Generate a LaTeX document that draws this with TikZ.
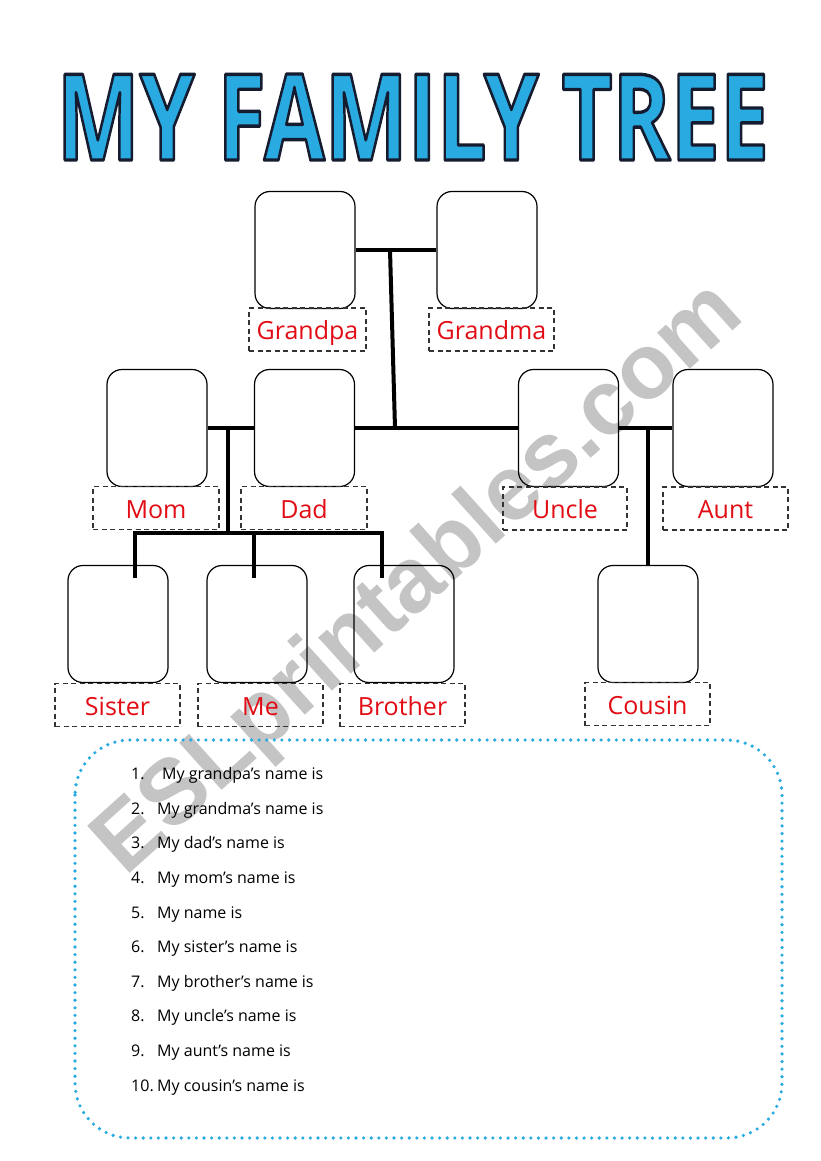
\documentclass[tikz,border=0pt]{standalone}
\usepackage{fontspec}
\setmainfont{Open Sans}
\newfontfamily\markfont{Liberation Sans}
\definecolor{skyblue}{RGB}{41,171,226}
\definecolor{namered}{RGB}{226,12,20}
% Titel: gefuellt und dunkel umrandet (Textmodus 2)
\newcommand\titletext{\bfseries\resizebox{712pt}{86pt}{%
  \special{pdf:literal direct 0.086 0.11 0.19 RG 0.28 w 1 j 2 Tr}MY FAMILY TREE%
  \special{pdf:literal direct 0 Tr}}}
\tikzset{
  photo/.style={draw, line width=1.2pt, rounded corners=15pt, minimum width=100pt,
    minimum height=117pt, inner sep=0pt},
  namebox/.style={draw=black!80, line width=1.2pt, dash pattern=on 5pt off 3.5pt,
    text=namered, minimum height=43pt, inner sep=0pt, text height=21pt, text depth=1pt,
    font=\fontsize{25}{29}\selectfont},
  link/.style={line width=4pt},
  item/.style={anchor=mid west, inner sep=0pt, font=\fontsize{16}{19}\selectfont},
}
\begin{document}
\begin{tikzpicture}[x=1pt, y=-1pt]
  \useasboundingbox (0,0) rectangle (821,1161);

  % Wasserzeichen
  \node[rotate=42, text=black!23, inner sep=0pt] (mark) at (420,580)
    {\markfont\bfseries\resizebox{835pt}{!}{ESLprintables.com}};

  % Titel
  \node[text=skyblue, inner sep=0pt] (title) at (413,117) {\titletext};

  % Fotorahmen
  \node[photo] (grandpa) at (305,250) {};
  \node[photo] (grandma) at (487,250) {};
  \node[photo] (mom)     at (157,428) {};
  \node[photo] (dad)     at (304.5,428) {};
  \node[photo] (uncle)   at (568.5,428) {};
  \node[photo] (aunt)    at (723,428) {};
  \node[photo] (sister)  at (118,624) {};
  \node[photo] (me)      at (257,624) {};
  \node[photo] (brother) at (404,624) {};
  \node[photo] (cousin)  at (648,624) {};

  % Verbindungen
  \coordinate (gpjoin) at (390,250);
  \coordinate (dujoin) at (395,428);
  \coordinate (mdjoin) at (228,428);
  \coordinate (kidsbar) at (228,533);
  \coordinate (sisdrop) at (135,578);
  \coordinate (medrop) at (254,578);
  \coordinate (brodrop) at (382,578);
  \draw[link] (grandpa.east) -- (grandma.west);
  \draw[link] (gpjoin) -- (dujoin);
  \draw[link] (mom.east) -- (dad.west);
  \draw[link] (dad.east) -- (uncle.west);
  \draw[link] (uncle.east) -- (aunt.west);
  \draw[link] (mdjoin) -- (kidsbar);
  \draw[link] (sisdrop) |- (brodrop |- kidsbar) -- (brodrop);
  \draw[link] (medrop) -- (medrop |- kidsbar);
  \draw[link] (cousin.north) -- (cousin.north |- uncle.east);

  % Namensfelder
  \node[namebox, minimum width=117pt] (grandpalbl) at (307.5,329.5) {Grandpa};
  \node[namebox, minimum width=125pt] (grandmalbl) at (491.5,329.5) {Grandma};
  \node[namebox, minimum width=126pt] (momlbl)     at (156,508) {Mom};
  \node[namebox, minimum width=126pt] (dadlbl)     at (304,508) {Dad};
  \node[namebox, minimum width=124pt] (unclelbl)   at (565,508.5) {Uncle};
  \node[namebox, minimum width=125pt] (auntlbl)    at (725.5,508.5) {Aunt};
  \node[namebox, minimum width=125pt] (sisterlbl)  at (117.5,705) {Sister};
  \node[namebox, minimum width=125pt] (melbl)      at (260.5,705) {Me};
  \node[namebox, minimum width=125pt] (brotherlbl) at (402.5,705) {Brother};
  \node[namebox, minimum width=125pt] (cousinlbl)  at (647.5,704) {Cousin};

  % Fragen
  \draw[skyblue, line width=3.6pt, line cap=round, dash pattern=on 0pt off 7.6pt,
    rounded corners=55pt] (75,740) rectangle (782,1138);
  \foreach \n/\x/\txt [count=\i from 0] in {
      1/162/My grandpa’s name is, 2/157/My grandma’s name is, 3/157/My dad’s name is,
      4/157/My mom’s name is, 5/157/My name is, 6/157/My sister’s name is,
      7/157/My brother’s name is, 8/157/My uncle’s name is, 9/157/My aunt’s name is,
      10/157/My cousin’s name is} {
    \node[item] (num\n) at (131,{777+34.6*\i}) {\n.};
    \node[item] (line\n) at (\x,{777+34.6*\i}) {\txt};
  }
\end{tikzpicture}
\end{document}
